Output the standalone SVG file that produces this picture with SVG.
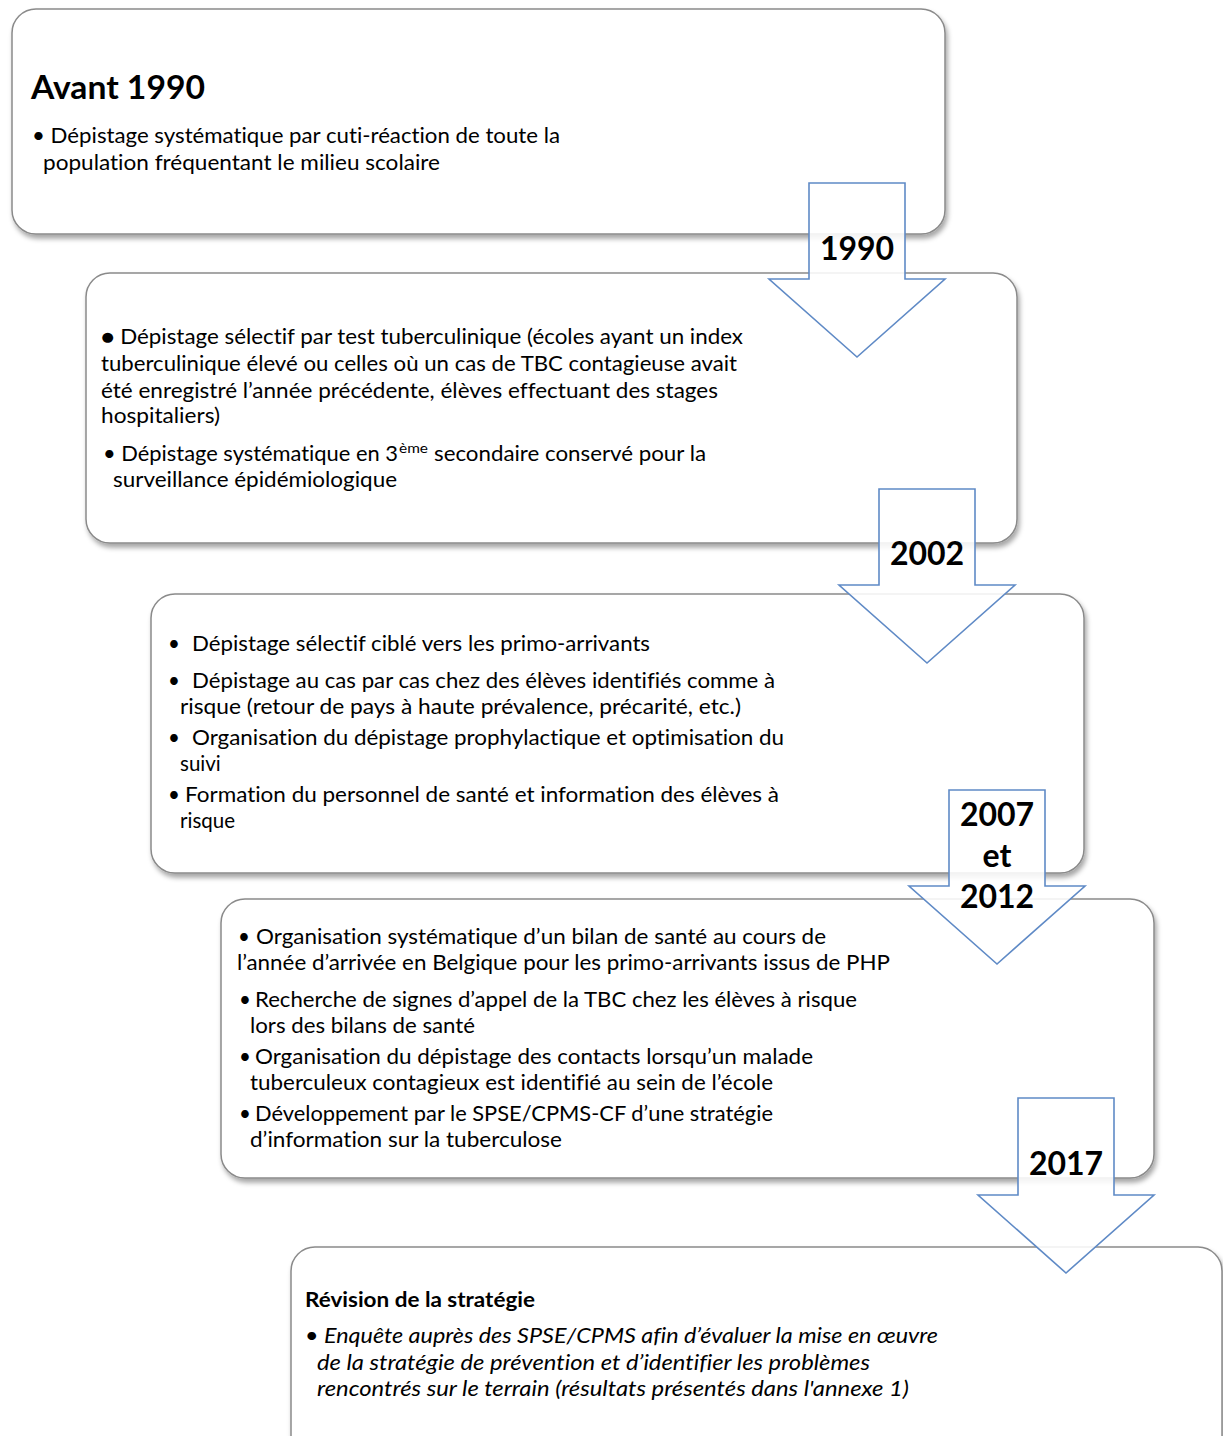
<svg xmlns="http://www.w3.org/2000/svg" width="1223" height="1436" viewBox="0 0 1223 1436">
<defs>
<filter id="sh" x="-5%" y="-5%" width="110%" height="115%">
<feDropShadow dx="2" dy="4" stdDeviation="2.5" flood-color="#000" flood-opacity="0.35"/>
</filter>
<style>
.box{fill:#fff;stroke:#8a8a8a;stroke-width:1.5;filter:url(#sh)}
.arr{fill:#fff;fill-opacity:0.88;stroke:#5f8ac6;stroke-width:1.6;stroke-linejoin:miter}
text{font-family:Lato,"Open Sans","Liberation Sans",sans-serif;fill:#000;font-variant-ligatures:none;font-feature-settings:"liga" 0,"dlig" 0}
.t{font-size:20.5px}
.h{font-size:32px;font-weight:bold}
.b{font-size:20.5px;font-weight:bold}
.i{font-size:20.5px;font-style:italic}
.y{font-size:32px;font-weight:bold;text-anchor:middle}
</style>
</defs>
<rect width="1223" height="1436" fill="#fff"/>

<g id="node-avant1990">
<rect class="box" x="12" y="9" width="933" height="225" rx="24"/>
<text class="h" x="31" y="99" textLength="174" lengthAdjust="spacingAndGlyphs">Avant 1990</text>
<text class="t" x="32" y="143" textLength="528" lengthAdjust="spacingAndGlyphs">• Dépistage systématique par cuti-réaction de toute la</text>
<text class="t" x="43" y="170" textLength="397" lengthAdjust="spacingAndGlyphs">population fréquentant le milieu scolaire</text>
</g>

<g id="node-1990">
<rect class="box" x="86" y="273" width="931" height="270" rx="24"/>
<text class="t" x="101" y="344" textLength="642" lengthAdjust="spacingAndGlyphs">● Dépistage sélectif par test tuberculinique (écoles ayant un index</text>
<text class="t" x="101" y="371" textLength="636" lengthAdjust="spacingAndGlyphs">tuberculinique élevé ou celles où un cas de TBC contagieuse avait</text>
<text class="t" x="101" y="398" textLength="617" lengthAdjust="spacingAndGlyphs">été enregistré l’année précédente, élèves effectuant des stages</text>
<text class="t" x="101" y="423" textLength="119" lengthAdjust="spacingAndGlyphs">hospitaliers)</text>
<text class="t" x="103" y="461" textLength="295" lengthAdjust="spacingAndGlyphs">• Dépistage systématique en 3</text>
<text x="399" y="453" font-size="13.5" textLength="29" lengthAdjust="spacingAndGlyphs">ème</text>
<text class="t" x="434" y="461" textLength="272" lengthAdjust="spacingAndGlyphs">secondaire conservé pour la</text>
<text class="t" x="113" y="487" textLength="284" lengthAdjust="spacingAndGlyphs">surveillance épidémiologique</text>
</g>

<g id="node-2002">
<rect class="box" x="151" y="594" width="933" height="279" rx="24"/>
<text class="t" x="168" y="651">•</text>
<text class="t" x="192" y="651" textLength="458" lengthAdjust="spacingAndGlyphs">Dépistage sélectif ciblé vers les primo-arrivants</text>
<text class="t" x="168" y="688">•</text>
<text class="t" x="192" y="688" textLength="583" lengthAdjust="spacingAndGlyphs">Dépistage au cas par cas chez des élèves identifiés comme à</text>
<text class="t" x="180" y="714" textLength="561" lengthAdjust="spacingAndGlyphs">risque (retour de pays à haute prévalence, précarité, etc.)</text>
<text class="t" x="168" y="745">•</text>
<text class="t" x="192" y="745" textLength="592" lengthAdjust="spacingAndGlyphs">Organisation du dépistage prophylactique et optimisation du</text>
<text class="t" x="180" y="771">suivi</text>
<text class="t" x="168" y="802">•</text>
<text class="t" x="185" y="802" textLength="594" lengthAdjust="spacingAndGlyphs">Formation du personnel de santé et information des élèves à</text>
<text class="t" x="180" y="828">risque</text>
</g>

<g id="node-2007-2012">
<rect class="box" x="221" y="899" width="933" height="279" rx="24"/>
<text class="t" x="238" y="944">•</text>
<text class="t" x="256" y="944" textLength="570" lengthAdjust="spacingAndGlyphs">Organisation systématique d’un bilan de santé au cours de</text>
<text class="t" x="237" y="970" textLength="653" lengthAdjust="spacingAndGlyphs">l’année d’arrivée en Belgique pour les primo-arrivants issus de PHP</text>
<text class="t" x="239" y="1007">•</text>
<text class="t" x="255" y="1007" textLength="602" lengthAdjust="spacingAndGlyphs">Recherche de signes d’appel de la TBC chez les élèves à risque</text>
<text class="t" x="250" y="1033" textLength="225" lengthAdjust="spacingAndGlyphs">lors des bilans de santé</text>
<text class="t" x="239" y="1064">•</text>
<text class="t" x="255" y="1064" textLength="558" lengthAdjust="spacingAndGlyphs">Organisation du dépistage des contacts lorsqu’un malade</text>
<text class="t" x="250" y="1090" textLength="523" lengthAdjust="spacingAndGlyphs">tuberculeux contagieux est identifié au sein de l’école</text>
<text class="t" x="239" y="1121">•</text>
<text class="t" x="255" y="1121" textLength="518" lengthAdjust="spacingAndGlyphs">Développement par le SPSE/CPMS-CF d’une stratégie</text>
<text class="t" x="250" y="1147" textLength="312" lengthAdjust="spacingAndGlyphs">d’information sur la tuberculose</text>
</g>

<g id="node-2017">
<rect class="box" x="291" y="1247" width="931" height="230" rx="24"/>
<text class="b" x="305" y="1307" textLength="230" lengthAdjust="spacingAndGlyphs">Révision de la stratégie</text>
<text class="i" x="305" y="1343" textLength="633" lengthAdjust="spacingAndGlyphs">• Enquête auprès des SPSE/CPMS afin d’évaluer la mise en œuvre</text>
<text class="i" x="317" y="1370" textLength="553" lengthAdjust="spacingAndGlyphs">de la stratégie de prévention et d’identifier les problèmes</text>
<text class="i" x="317" y="1396" textLength="592" lengthAdjust="spacingAndGlyphs">rencontrés sur le terrain (résultats présentés dans l'annexe 1)</text>
</g>

<g id="connectors">
<g id="arrow-1990">
<path class="arr" d="M809 183 H905 V279 H945 L857 357 L769 279 H809 Z"/>
<text class="y" x="857" y="260">1990</text>
</g>
<g id="arrow-2002">
<path class="arr" d="M879 489 H975 V585 H1015 L927 663 L839 585 H879 Z"/>
<text class="y" x="927" y="565">2002</text>
</g>
<g id="arrow-2007-2012">
<path class="arr" d="M949 790 H1045 V886 H1085 L997 964 L909 886 H949 Z"/>
<text class="y" x="997" y="826">2007</text>
<text class="y" x="997" y="867">et</text>
<text class="y" x="997" y="908">2012</text>
</g>
<g id="arrow-2017">
<path class="arr" d="M1018 1098 H1114 V1195 H1154 L1066 1273 L978 1195 H1018 Z"/>
<text class="y" x="1066" y="1175">2017</text>
</g>
</g>
</svg>
